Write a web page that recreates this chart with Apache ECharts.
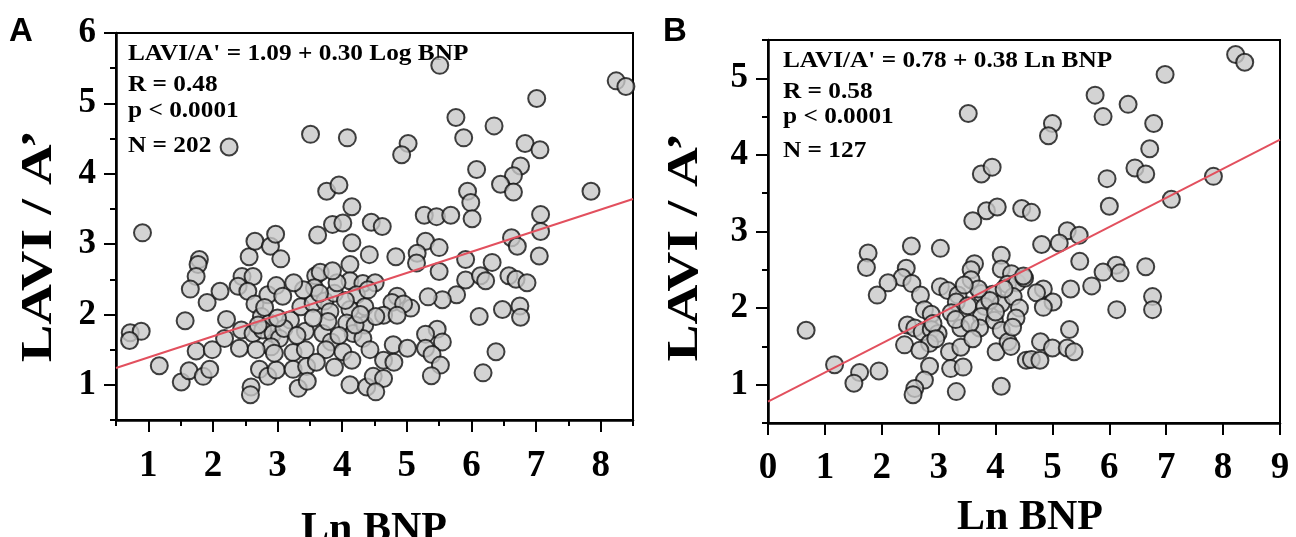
<!DOCTYPE html>
<html>
<head>
<meta charset="utf-8">
<script src="https://cdn.jsdelivr.net/npm/echarts@6/dist/echarts.min.js"></script>
<style>
html,body{margin:0;padding:0;background:#fff;}
#c{width:1296px;height:537px;}
</style>
</head>
<body>
<div id="c"></div>
<script>
// ---------- DATA ----------
// Panel A: Ln BNP vs LAVI/A' (N = 202)
const pointsA = [
 [2.25,4.38],[3.51,4.56],[4.08,4.51],[3.76,3.75],[3.95,3.84],[4.15,3.53],[3.85,3.28],[4.01,3.30],[3.62,3.13],[4.45,3.31],
 [4.15,3.02],[4.42,2.85],[0.91,3.16],[1.79,2.78],[1.77,2.71],[1.74,2.54],[1.65,2.36],[1.91,2.17],[2.11,2.33],[1.57,1.91],
 [0.72,1.74],[0.89,1.76],[0.71,1.63],[1.17,1.27],[1.51,1.04],[1.63,1.20],[1.85,1.12],[1.95,1.22],[1.74,1.48],[1.99,1.50],
 [2.21,1.93],[2.18,1.66],[2.41,1.52],[2.56,2.82],[2.65,3.04],[2.89,2.97],[2.97,3.14],[3.05,2.79],[2.45,2.54],[2.62,2.54],
 [2.39,2.40],[2.54,2.33],[2.65,2.15],[2.85,2.28],[2.98,2.41],[3.08,2.26],[2.75,1.97],[2.88,1.88],[2.44,1.78],[2.62,1.73],
 [2.77,1.78],[2.93,1.73],[3.03,1.66],[2.90,1.54],[2.67,1.50],[2.72,1.22],[2.85,1.12],[2.98,1.21],[2.59,0.97],[2.58,0.86],
 [3.20,1.92],[3.24,1.46],[3.43,1.50],[3.24,1.22],[3.45,1.26],[3.32,0.95],[3.46,1.05],[3.43,1.76],[3.36,2.11],[3.55,2.16],
 [3.59,2.55],[3.66,2.60],[3.57,2.38],[3.73,2.19],[3.88,2.30],[3.81,2.04],[3.70,1.73],[3.83,1.61],[3.78,1.90],[4.01,1.47],
 [3.88,1.25],[4.12,1.00],[4.12,2.71],[4.12,2.48],[4.32,2.44],[4.22,2.28],[4.35,2.11],[4.12,2.07],[4.07,1.88],[4.17,1.73],
 [4.35,1.85],[4.32,1.66],[4.43,1.50],[4.38,0.97],[4.48,1.12],
 [5.51,5.54],[8.24,5.32],[8.39,5.24],[7.01,5.07],[5.76,4.80],[5.88,4.51],[6.35,4.68],[5.02,4.43],[4.92,4.27],[6.83,4.43],
 [7.06,4.34],[6.08,4.06],[6.76,4.11],[6.65,3.97],[6.45,3.85],[6.65,3.74],[7.85,3.75],[5.94,3.75],[5.99,3.59],[6.01,3.36],
 [5.27,3.41],[5.46,3.39],[5.68,3.41],[7.07,3.42],[7.07,3.18],[4.62,3.25],[6.62,3.09],[6.71,2.97],[7.05,2.83],[5.29,3.04],
 [5.50,2.95],[5.16,2.87],[5.15,2.73],[4.83,2.82],[5.91,2.78],[6.32,2.74],[5.50,2.61],[5.91,2.49],[6.14,2.55],[6.22,2.48],
 [6.58,2.55],[6.69,2.50],[6.86,2.45],[4.51,2.45],[5.77,2.28],[5.55,2.21],[5.33,2.25],[5.06,2.09],[4.85,2.26],[4.77,2.17],
 [4.95,2.15],[4.64,1.99],[4.85,1.99],[4.52,1.97],[6.12,1.97],[6.48,2.07],[6.75,2.12],[6.76,1.96],[5.47,1.79],[5.29,1.72],
 [5.55,1.61],[5.29,1.52],[5.39,1.43],[4.79,1.57],[5.01,1.52],[4.64,1.35],[4.80,1.32],[6.38,1.47],[5.52,1.28],[5.38,1.13],
 [6.18,1.17],[4.64,1.09],[4.52,0.90],
 [3.10,1.80],[3.30,1.70],[3.55,1.95],[3.65,2.30],[3.92,2.45],[4.05,2.20],[4.20,1.85],[3.95,1.70],[3.40,2.35],[2.80,2.10],
 [3.00,1.95],[4.28,2.00],[3.75,1.50],[4.15,1.35],[2.70,1.85],[3.85,2.62],[4.40,2.35],[3.25,2.45],[2.95,1.45],[3.60,1.32]
];
// Panel B: Ln BNP vs LAVI/A' (N = 127)
const pointsB = [
 [3.75,3.75],[3.94,3.84],[3.84,3.27],[4.03,3.32],[3.60,3.14],[4.46,3.30],[1.76,2.72],[1.73,2.53],[2.52,2.81],[3.03,2.78],
 [2.43,2.52],[2.36,2.40],[2.53,2.32],[2.11,2.33],[1.92,2.17],[2.68,2.17],[2.75,1.98],[2.87,1.92],[3.03,2.28],[3.16,2.23],
 [3.34,2.17],[3.31,2.08],[3.22,1.94],[3.51,2.03],[3.63,2.58],[3.57,2.50],[3.57,2.37],[4.10,2.69],[4.10,2.51],[4.28,2.45],
 [4.21,2.31],[4.38,2.33],[3.75,2.19],[3.95,2.18],[4.10,2.06],[4.31,2.15],[4.42,2.00],[4.51,2.39],[3.81,2.02],[3.75,1.89],
 [3.98,1.84],[3.72,1.74],[4.10,1.71],[4.36,1.87],[3.39,1.74],[2.45,1.78],[2.58,1.74],[2.71,1.69],[2.87,1.72],[2.99,1.67],
 [2.84,1.54],[2.40,1.52],[2.67,1.45],[3.19,1.43],[3.39,1.49],[2.84,1.24],[3.21,1.21],[3.43,1.23],[2.75,1.06],[2.58,0.95],
 [2.55,0.87],[3.31,0.91],[4.10,0.98],[4.01,1.43],[4.22,1.56],[4.27,1.50],[0.67,1.71],[1.17,1.26],[1.61,1.16],[1.51,1.02],
 [1.95,1.18],[4.54,1.32],[3.52,4.54],
 [8.22,5.31],[8.38,5.21],[6.98,5.05],[5.75,4.78],[5.89,4.50],[6.33,4.66],[5.00,4.41],[4.93,4.25],[6.78,4.41],[6.71,4.08],
 [6.45,3.83],[6.64,3.75],[5.96,3.69],[6.00,3.33],[7.83,3.72],[7.09,3.42],[4.63,3.25],[5.26,3.01],[5.47,2.95],[4.81,2.83],
 [5.12,2.85],[5.48,2.61],[6.12,2.56],[6.19,2.46],[5.89,2.47],[6.64,2.54],[4.49,2.42],[5.69,2.29],[5.32,2.25],[4.84,2.25],
 [4.72,2.20],[5.01,2.08],[4.84,2.01],[6.13,1.98],[6.76,2.15],[6.76,1.98],[5.30,1.72],[4.79,1.56],[5.00,1.48],[5.26,1.48],
 [5.38,1.43],[4.63,1.33],[4.78,1.32],
 [3.30,1.85],[3.55,1.80],[3.90,2.10],[4.00,1.95],[2.90,1.80],[3.70,2.25],[4.15,2.25],[3.45,2.30],[2.95,1.60],[3.60,1.60],[4.30,1.75]
];
// Regression: [intercept, slope] as printed on the figure
const fitA = [1.09, 0.30];
const fitB = [0.78, 0.38];
// Axis ranges and tick values
const xRangeA = [0.5, 8.5], yRangeA = [0.5, 6];
const xRangeB = [0, 9],     yRangeB = [0.5, 5.5];
const xMajorA = [1,2,3,4,5,6,7,8];
const xMinorA = [0.5,1.5,2.5,3.5,4.5,5.5,6.5,7.5,8.5];
const yMajorA = [1,2,3,4,5,6];
const yMinorA = [0.5,1.5,2.5,3.5,4.5,5.5];
const xMajorB = [0,1,2,3,4,5,6,7,8,9];
const yMajorB = [1,2,3,4,5];
const yMinorB = [0.5,1.5,2.5,3.5,4.5,5.5];
const annoA = ["LAVI/A' = 1.09 + 0.30 Log BNP", "R = 0.48", "p < 0.0001", "N = 202"];
const annoB = ["LAVI/A' = 0.78 + 0.38 Ln BNP", "R = 0.58", "p < 0.0001", "N = 127"];
const yTitle = "LAVI / A\u2019";
const xTitle = "Ln BNP";

// ---------- CHART ----------
const SERIF = "Liberation Serif";
const chart = echarts.init(document.getElementById('c'), null, {renderer:'canvas'});
const lab = (vals, size, margin) => ({
  show: true, customValues: vals, fontFamily: SERIF, fontWeight: 'bold',
  fontSize: size, color: '#000', margin: margin
});
const tick = (vals, len) => ({show: true, customValues: vals, length: len, inside: false,
  lineStyle: {color: '#000', width: 2}});
function axisPair(gridIndex, range, major, minor, fs, margin, pos) {
  const base = {
    type: 'value', gridIndex, min: range[0], max: range[1], position: pos,
    splitLine: {show: false}, minorTick: {show: false}
  };
  const arr = [Object.assign({}, base, {
    axisLine: {show: true, onZero: false, lineStyle: {color: '#000', width: 2.5}},
    axisTick: tick(major, 12),
    axisLabel: lab(major, fs, margin)
  })];
  if (minor) arr.push(Object.assign({}, base, {
    axisLine: {show: false, onZero: false},
    axisTick: tick(minor, 6),
    axisLabel: {show: false}
  }));
  return arr;
}
const fitLine = (fit, r) => [[r[0], fit[0] + fit[1]*r[0]], [r[1], fit[0] + fit[1]*r[1]]];

const xAxes = [].concat(
  axisPair(0, xRangeA, xMajorA, xMinorA, 37, 28, 'bottom'),
  axisPair(1, xRangeB, xMajorB, null, 37, 27, 'bottom')
);
const yAxes = [].concat(
  axisPair(0, yRangeA, yMajorA, yMinorA, 35, 20, 'left'),
  axisPair(1, yRangeB, yMajorB, yMinorB, 35, 20, 'left')
);

const scatterStyle = {color: '#c8c8c8', borderColor: '#111', borderWidth: 2};
const annoFont = "bold 23px '" + SERIF + "'";
const textEl = (x, y, text, font, sx) => ({
  type: 'text', x, y, silent: true, scaleX: sx || 1,
  style: {text, font, fill: '#000', textAlign: 'left', textVerticalAlign: 'middle'}
});
const titleEl = (x, y, text, size, rot, sx) => ({
  type: 'text', x, y, rotation: rot, scaleX: sx, silent: true,
  style: {text, font: "bold " + size + "px '" + SERIF + "'", fill: '#000', textAlign: 'center', textVerticalAlign: 'middle'}
});
const graphics = [
  textEl(9, 32, 'A', "bold 33px 'Liberation Sans'"),
  textEl(663, 32, 'B', "bold 33px 'Liberation Sans'"),
  textEl(128, 54, annoA[0], annoFont, 1.1), textEl(128, 85, annoA[1], annoFont, 1.1),
  textEl(128, 111, annoA[2], annoFont, 1.1), textEl(128, 146, annoA[3], annoFont, 1.1),
  textEl(783, 61, annoB[0], annoFont, 1.1), textEl(783, 92, annoB[1], annoFont, 1.1),
  textEl(783, 117, annoB[2], annoFont, 1.1), textEl(783, 151, annoB[3], annoFont, 1.1),
  titleEl(40, 246, yTitle, 44, Math.PI/2, 1.28),
  titleEl(686, 247, yTitle, 44, Math.PI/2, 1.26),
  titleEl(374, 530, xTitle, 42, 0, 1),
  titleEl(1030, 518, xTitle, 42, 0, 1)
];

chart.setOption({
  animation: false,
  backgroundColor: '#fff',
  grid: [
    {left: 116, top: 33, width: 517, height: 387, show: true, borderColor: '#000', borderWidth: 2, outerBoundsMode: 'none', containLabel: false},
    {left: 768, top: 40, width: 512, height: 383, show: true, borderColor: '#000', borderWidth: 2, outerBoundsMode: 'none', containLabel: false}
  ],
  xAxis: xAxes,
  yAxis: yAxes,
  series: [
    {type: 'scatter', xAxisIndex: 0, yAxisIndex: 0, data: pointsA, symbol: 'circle', symbolSize: 17, itemStyle: scatterStyle, z: 2},
    {type: 'line', xAxisIndex: 0, yAxisIndex: 0, data: fitLine(fitA, xRangeA), showSymbol: false, symbol: 'none',
     lineStyle: {color: '#e2505e', width: 2}, z: 3, silent: true},
    {type: 'scatter', xAxisIndex: 2, yAxisIndex: 2, data: pointsB, symbol: 'circle', symbolSize: 17, itemStyle: scatterStyle, z: 2},
    {type: 'line', xAxisIndex: 2, yAxisIndex: 2, data: fitLine(fitB, xRangeB), showSymbol: false, symbol: 'none',
     lineStyle: {color: '#e2505e', width: 2}, z: 3, silent: true}
  ],
  graphic: graphics
});
</script>
</body>
</html>
